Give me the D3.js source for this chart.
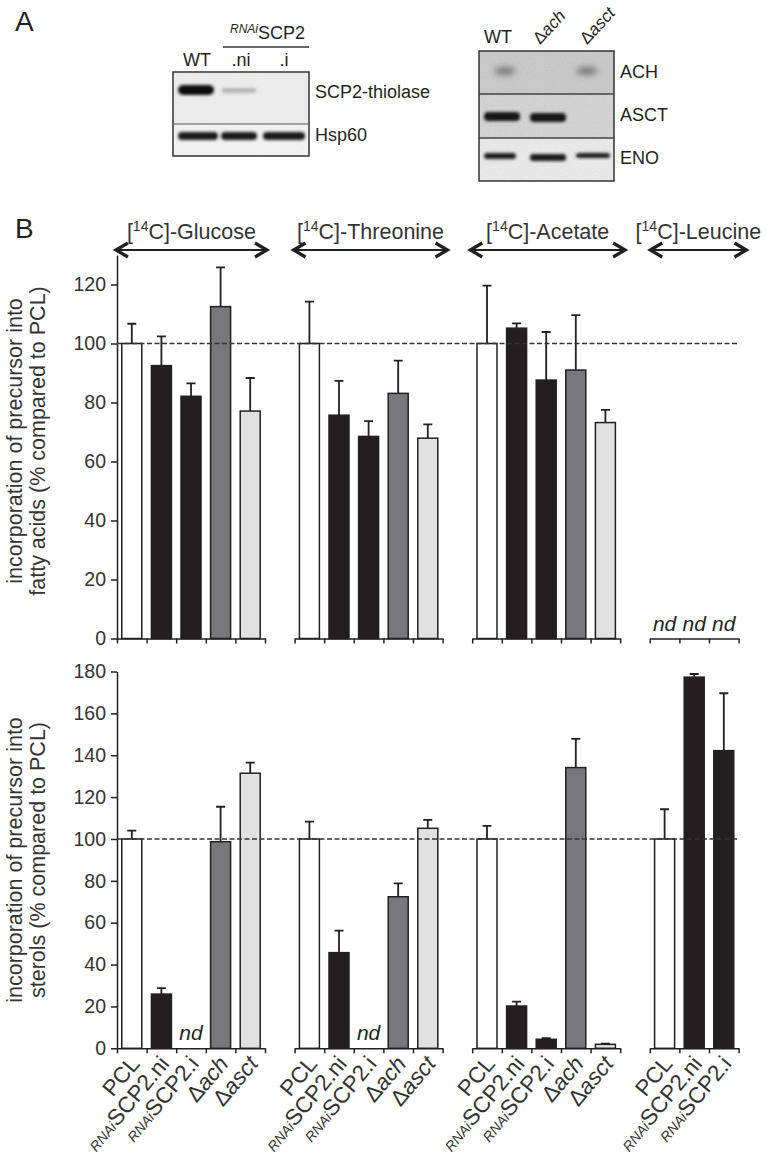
<!DOCTYPE html>
<html>
<head>
<meta charset="utf-8">
<script src="https://cdn.jsdelivr.net/npm/d3@7"></script>
<style>
  body { margin: 0; background: #fff; }
  svg { display: block; font-family: "Liberation Sans", Arial, sans-serif; }
</style>
</head>
<body>
<div id="chart"></div>
<script>
// ---- data ----
const groups = ["Glucose", "Threonine", "Acetate", "Leucine"];
const strains = ["PCL", "SCP2.ni", "SCP2.i", "ach", "asct"];
const groupSize = [5, 5, 5, 3];

// incorporation into fatty acids (% of PCL), null = nd
const fattyMean = [[100, 92.5, 82.1, 112.5, 77.1], [100, 75.7, 68.5, 83.1, 67.9], [100, 105.2, 87.6, 91.0, 73.2], [null, null, null]];
const fattyErr = [[6.7, 9.9, 4.4, 13.3, 11.2], [14.2, 11.6, 5.2, 11.1, 4.7], [19.6, 1.6, 16.3, 18.6, 4.3], [null, null, null]];

// incorporation into sterols (% of PCL), null = nd
const sterolMean = [[100, 25.9, null, 98.7, 131.4], [100, 45.7, null, 72.4, 105.1], [100, 20.2, 4.3, 134.1, 1.9], [100, 177.3, 142.2]];
const sterolErr = [[4.0, 2.8, null, 16.7, 5.1], [8.3, 10.5, null, 6.4, 4.0], [6.3, 2.1, 0.5, 13.7, 0.3], [14.2, 1.5, 27.4]];

const fattyTicks = [0, 20, 40, 60, 80, 100, 120];
const sterolTicks = [0, 20, 40, 60, 80, 100, 120, 140, 160, 180];

const W = 766, H = 1155;
const ink = "#231f20";
const fillOf = { "PCL": "#ffffff", "SCP2.ni": "#231f20", "SCP2.i": "#231f20", "ach": "#76787b", "asct": "#e1e1e1" };

const svg = d3.select("#chart").append("svg")
    .attr("width", W)
    .attr("height", H);

const defs = svg.append("defs");
defs.append("filter").attr("id", "blur1").attr("x", "-50%").attr("y", "-100%").attr("width", "200%").attr("height", "300%")
    .append("feGaussianBlur").attr("stdDeviation", 1.4);
defs.append("filter").attr("id", "blur3").attr("x", "-50%").attr("y", "-100%").attr("width", "200%").attr("height", "300%")
    .append("feGaussianBlur").attr("stdDeviation", 3);
const noise = defs.append("filter").attr("id", "noise");
noise.append("feTurbulence").attr("type", "fractalNoise").attr("baseFrequency", 0.9).attr("numOctaves", 2).attr("seed", 3);
noise.append("feColorMatrix").attr("type", "saturate").attr("values", 0);
noise.append("feComponentTransfer").append("feFuncA").attr("type", "table").attr("tableValues", "0 0.35");
noise.append("feComposite").attr("in2", "SourceGraphic").attr("operator", "in");

// ---- panel letters ----
svg.append("text").attr("x", 15).attr("y", 31).attr("font-size", 28).attr("fill", ink).text("A");
svg.append("text").attr("x", 15).attr("y", 238).attr("font-size", 28).attr("fill", ink).text("B");

// ---- panel A : western blots ----
const blotA = svg.append("g");
blotA.append("rect").attr("x", 173).attr("y", 72).attr("width", 136).attr("height", 52).attr("fill", "#ededed");
blotA.append("rect").attr("x", 173).attr("y", 124).attr("width", 136).attr("height", 32).attr("fill", "#f3f3f3");
blotA.append("rect").attr("x", 173).attr("y", 72).attr("width", 136).attr("height", 84).attr("fill", "#000").attr("filter", "url(#noise)").attr("opacity", 0.25);
blotA.append("rect").attr("x", 178).attr("y", 85).attr("width", 36).attr("height", 10).attr("rx", 5).attr("fill", "#111").attr("filter", "url(#blur1)");
blotA.append("rect").attr("x", 222).attr("y", 88).attr("width", 34).attr("height", 5).attr("rx", 2).attr("fill", "#b5b5b5").attr("filter", "url(#blur1)");
[[178, 40], [221, 36], [263, 42]].forEach(b => {
    blotA.append("rect").attr("x", b[0]).attr("y", 132).attr("width", b[1]).attr("height", 8).attr("rx", 4)
        .attr("fill", "#1c1c1c").attr("filter", "url(#blur1)");
});
blotA.append("rect").attr("x", 173).attr("y", 72).attr("width", 136).attr("height", 84).attr("fill", "none").attr("stroke", "#333").attr("stroke-width", 1.5);
blotA.append("line").attr("x1", 173).attr("x2", 309).attr("y1", 124).attr("y2", 124).attr("stroke", "#555").attr("stroke-width", 1.2);

blotA.append("text").attr("x", 197).attr("y", 66).attr("text-anchor", "middle").attr("font-size", 18).attr("fill", ink).text("WT");
blotA.append("text").attr("x", 241).attr("y", 66).attr("text-anchor", "middle").attr("font-size", 18).attr("fill", ink).text(".ni");
blotA.append("text").attr("x", 284).attr("y", 66).attr("text-anchor", "middle").attr("font-size", 18).attr("fill", ink).text(".i");
const rnaiHead = blotA.append("text").attr("x", 230).attr("y", 39).attr("font-size", 18).attr("fill", ink);
rnaiHead.append("tspan").attr("font-size", 12).attr("font-style", "italic").attr("dy", -6).text("RNAi");
rnaiHead.append("tspan").attr("dy", 6).text("SCP2");
blotA.append("line").attr("x1", 223).attr("x2", 309).attr("y1", 47).attr("y2", 47).attr("stroke", "#333").attr("stroke-width", 1.5);
blotA.append("text").attr("x", 315).attr("y", 98).attr("font-size", 18).attr("fill", ink).text("SCP2-thiolase");
blotA.append("text").attr("x", 315).attr("y", 141).attr("font-size", 18).attr("fill", ink).text("Hsp60");

const blotB = svg.append("g");
blotB.append("rect").attr("x", 479).attr("y", 51).attr("width", 135).attr("height", 43).attr("fill", "#c9c9c9");
blotB.append("rect").attr("x", 479).attr("y", 94).attr("width", 135).attr("height", 44).attr("fill", "#d4d4d4");
blotB.append("rect").attr("x", 479).attr("y", 138).attr("width", 135).attr("height", 43).attr("fill", "#ececec");
blotB.append("rect").attr("x", 479).attr("y", 51).attr("width", 135).attr("height", 130).attr("fill", "#000").attr("filter", "url(#noise)").attr("opacity", 0.6);
[505, 587].forEach(cx => {
    blotB.append("ellipse").attr("cx", cx).attr("cy", 71).attr("rx", 11).attr("ry", 4).attr("fill", "#777").attr("filter", "url(#blur3)");
});
[[484, 36, 112], [530, 36, 113]].forEach(b => {
    blotB.append("rect").attr("x", b[0]).attr("y", b[2]).attr("width", b[1]).attr("height", 9).attr("rx", 4)
        .attr("fill", "#161616").attr("filter", "url(#blur1)");
});
[[484, 32, 153, 6], [530, 36, 154, 7], [576, 34, 153, 5]].forEach(b => {
    blotB.append("rect").attr("x", b[0]).attr("y", b[2]).attr("width", b[1]).attr("height", b[3]).attr("rx", 3)
        .attr("fill", "#1c1c1c").attr("filter", "url(#blur1)");
});
blotB.append("rect").attr("x", 479).attr("y", 51).attr("width", 135).attr("height", 130).attr("fill", "none").attr("stroke", "#333").attr("stroke-width", 1.5);
[94, 138].forEach(yy => blotB.append("line").attr("x1", 479).attr("x2", 614).attr("y1", yy).attr("y2", yy).attr("stroke", "#444").attr("stroke-width", 1.3));
blotB.append("text").attr("x", 498).attr("y", 43).attr("text-anchor", "middle").attr("font-size", 18).attr("fill", ink).text("WT");
[[540, "ach"], [587, "asct"]].forEach(l => {
    const t = blotB.append("text").attr("transform", `translate(${l[0]},45) rotate(-47)`).attr("font-size", 17).attr("fill", ink);
    t.append("tspan").text("Δ");
    t.append("tspan").attr("font-style", "italic").text(l[1]);
});
blotB.append("text").attr("x", 620).attr("y", 78).attr("font-size", 18).attr("fill", ink).text("ACH");
blotB.append("text").attr("x", 620).attr("y", 121).attr("font-size", 18).attr("fill", ink).text("ASCT");
blotB.append("text").attr("x", 620).attr("y", 164).attr("font-size", 18).attr("fill", ink).text("ENO");

// ---- panel B : bar charts ----
const x = d3.scaleLinear().domain([0, 21]).range([117, 738.6]);
const slot = (g, i) => 6 * g + i;
const yTop = d3.scaleLinear().domain([0, 130]).range([638.5, 255]);
const yBot = d3.scaleLinear().domain([0, 180]).range([1048.3, 671.5]);
const barW = 20;

// substrate arrows
const arrowSpan = [[-0.07, 5.1], [5.93, 11.2], [11.9, 17.2], [17.98, 21.3]];
groups.forEach((name, gi) => {
    const xa = x(arrowSpan[gi][0]), xb = x(arrowSpan[gi][1]);
    const ay = 250;
    svg.append("line").attr("x1", xa + 2).attr("x2", xb - 2).attr("y1", ay).attr("y2", ay)
        .attr("stroke", ink).attr("stroke-width", 2.2);
    svg.append("path")
        .attr("d", `M${xa + 13},${ay - 7}L${xa + 1},${ay}L${xa + 13},${ay + 7}M${xb - 13},${ay - 7}L${xb - 1},${ay}L${xb - 13},${ay + 7}`)
        .attr("fill", "none").attr("stroke", ink).attr("stroke-width", 3.2).attr("stroke-linejoin", "miter");
    const t = svg.append("text").attr("x", (xa + xb) / 2).attr("y", 239)
        .attr("text-anchor", "middle").attr("font-size", 21.5).attr("fill", "#333");
    t.append("tspan").text("[");
    t.append("tspan").attr("font-size", 14).attr("dy", -8).text("14");
    t.append("tspan").attr("dy", 8).text("C]-" + name);
});

function drawPanel(y, means, errs, ticks, label, labelCenter) {
    const g = svg.append("g");
    const rows = [];
    groups.forEach((name, gi) => {
        for (let i = 0; i < groupSize[gi]; i++) {
            rows.push({ g: gi, i: i, strain: strains[i], mean: means[gi][i], err: errs[gi][i] });
        }
    });

    // y axis
    const ya = g.append("g")
        .attr("transform", `translate(${x(0)},0)`)
        .call(d3.axisLeft(y).tickValues(ticks).tickSize(6).tickPadding(5).tickSizeOuter(0));
    ya.select(".domain").attr("stroke", ink).attr("stroke-width", 1.5);
    ya.selectAll(".tick line").attr("stroke", ink).attr("stroke-width", 1.5);
    ya.selectAll(".tick text").attr("font-size", 19.5).attr("fill", "#333").attr("font-family", "Liberation Sans, Arial, sans-serif");

    // group x axes
    groups.forEach((name, gi) => {
        const n = groupSize[gi];
        const gx = d3.scaleLinear().domain([slot(gi, 0), slot(gi, n)]).range([x(slot(gi, 0)), x(slot(gi, n))]);
        const xa = g.append("g")
            .attr("transform", `translate(0,${y(0)})`)
            .call(d3.axisBottom(gx).tickValues(d3.range(slot(gi, 0), slot(gi, n) + 1)).tickSize(5).tickSizeOuter(0).tickFormat(""));
        xa.select(".domain").attr("stroke", ink).attr("stroke-width", 1.5);
        xa.selectAll(".tick line").attr("stroke", ink).attr("stroke-width", 1.5);
    });

    const measured = rows.filter(d => d.mean !== null);

    // error bars (upper only)
    g.selectAll(".err")
        .data(measured)
        .enter().append("path")
        .attr("class", "err")
        .attr("d", d => {
            const cx = x(slot(d.g, d.i) + 0.5);
            return `M${cx},${y(d.mean)}V${y(d.mean + d.err)}M${cx - 4.5},${y(d.mean + d.err)}H${cx + 4.5}`;
        })
        .attr("fill", "none")
        .attr("stroke", ink)
        .attr("stroke-width", 1.8);

    // bars
    g.selectAll(".bar")
        .data(measured)
        .enter().append("rect")
        .attr("class", "bar")
        .attr("x", d => x(slot(d.g, d.i) + 0.5) - barW / 2)
        .attr("y", d => y(d.mean))
        .attr("width", barW)
        .attr("height", d => y(0) - y(d.mean))
        .attr("fill", d => fillOf[d.strain])
        .attr("stroke", ink)
        .attr("stroke-width", 1.5);

    // reference line at 100 %
    g.append("line")
        .attr("x1", x(0)).attr("x2", x(21))
        .attr("y1", y(100)).attr("y2", y(100))
        .attr("stroke", "#333")
        .attr("stroke-width", 1.4)
        .attr("stroke-dasharray", "5,2.5");

    // not determined
    g.selectAll(".nd")
        .data(rows.filter(d => d.mean === null))
        .enter().append("text")
        .attr("class", "nd")
        .attr("x", d => x(slot(d.g, d.i) + 0.5))
        .attr("y", y(0) - 8)
        .attr("text-anchor", "middle")
        .attr("font-size", 21)
        .attr("font-style", "italic")
        .attr("fill", ink)
        .text("nd");

    // y label
    const yl = svg.append("text")
        .attr("transform", `translate(22,${labelCenter}) rotate(-90)`)
        .attr("text-anchor", "middle")
        .attr("font-size", 21.5)
        .attr("fill", "#333");
    yl.append("tspan").attr("x", 0).attr("y", 0).text(label[0]);
    yl.append("tspan").attr("x", 0).attr("y", 23).text(label[1]);

    return rows;
}

drawPanel(yTop, fattyMean, fattyErr, fattyTicks, ["incorporation of precursor into", "fatty acids (% compared to PCL)"], 441);
const rows = drawPanel(yBot, sterolMean, sterolErr, sterolTicks, ["incorporation of precursor into", "sterols (% compared to PCL)"], 860);

// category labels under the sterol panel
rows.forEach(d => {
    const t = svg.append("text")
        .attr("transform", `translate(${x(slot(d.g, d.i) + 0.5) + 9},${yBot(0) + 16}) rotate(-50)`)
        .attr("text-anchor", "end")
        .attr("font-size", 22.5)
        .attr("fill", "#333");
    if (d.strain === "PCL") {
        t.text("PCL");
    } else if (d.strain.startsWith("SCP2")) {
        t.append("tspan").attr("font-size", 14).attr("font-style", "italic").text("RNAi");
        t.append("tspan").text(d.strain);
    } else {
        t.append("tspan").text("Δ");
        t.append("tspan").attr("font-style", "italic").text(d.strain);
    }
});
</script>
</body>
</html>
